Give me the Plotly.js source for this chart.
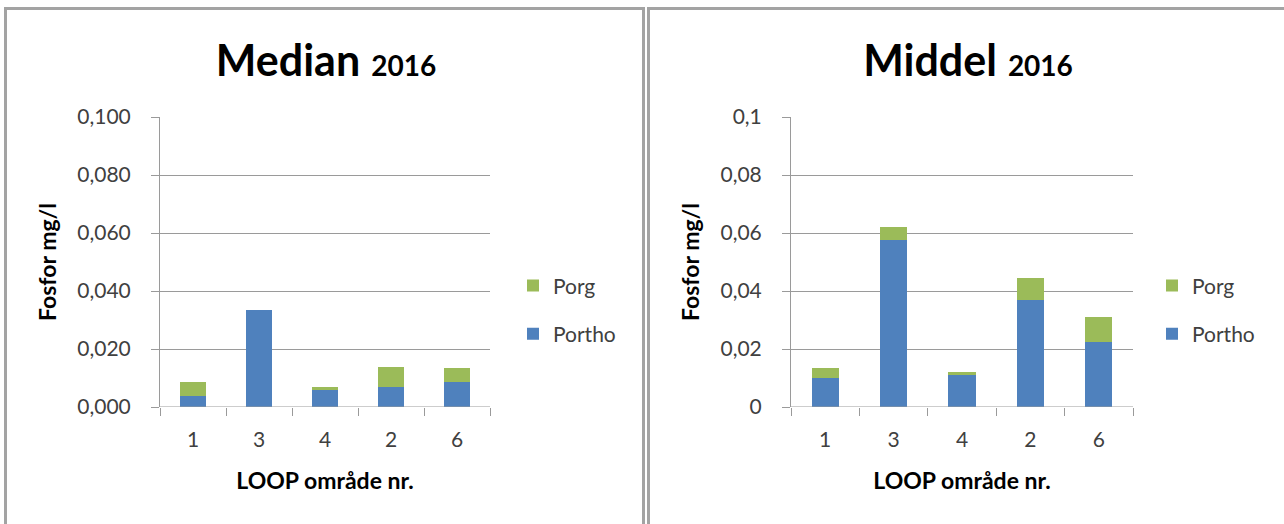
<!DOCTYPE html>
<html>
<head>
<meta charset="utf-8">
<script src="https://cdn.plot.ly/plotly-3.0.1.min.js"></script>
<style>
  html, body { margin:0; padding:0; background:#fff; width:1284px; height:524px; overflow:hidden; }
  #left, #right { position:absolute; top:0; height:524px; }
  #left { left:0; width:645px; }
  #right { left:645px; width:639px; }
  .frame { position:absolute; border:3px solid #a3a3a3; border-bottom:none; pointer-events:none; z-index:5; }
</style>
</head>
<body>
<div id="left"></div>
<div id="right"></div>
<div class="frame" style="left:4px; top:7px; width:635px; height:530px;"></div>
<div class="frame" style="left:647px; top:7px; width:660px; height:530px;"></div>
<script>
// Categories (LOOP område nr.)
const categories = ["1", "3", "4", "2", "6"];

// Median 2016 (mg/l)
const medianPortho = [0.0038, 0.0336, 0.0057, 0.0068, 0.0085];
const medianPorg   = [0.0047, 0.0000, 0.0012, 0.0069, 0.0049];

// Middel 2016 (mg/l)
const middelPortho = [0.0100, 0.0576, 0.0110, 0.0368, 0.0225];
const middelPorg   = [0.0035, 0.0043, 0.0012, 0.0078, 0.0086];

// Tick labels
const yTickVals = [0, 0.02, 0.04, 0.06, 0.08, 0.1];
const medianTickText = ["0,000", "0,020", "0,040", "0,060", "0,080", "0,100"];
const middelTickText = ["0", "0,02", "0,04", "0,06", "0,08", "0,1"];

const BLUE = "#4f81bd";
const GREEN = "#9bbb59";
const FONT = "Lato, 'Open Sans', sans-serif";
const GRID = "#9a9a9a";

function makeTraces(portho, porg) {
  return [
    { type: "bar", name: "Portho", x: categories, y: portho, marker: { color: BLUE }, legendgroup: "a", legendrank: 2, hoverinfo: "skip" },
    { type: "bar", name: "Porg", x: categories, y: porg, marker: { color: GREEN }, legendgroup: "b", legendrank: 1, hoverinfo: "skip" }
  ];
}

function makeLayout(word, tickText, width, ml, mr, bargap, legX, titleX) {
  return {
    width: width, height: 524,
    margin: { l: ml, r: mr, t: 117, b: 117, pad: 0 },
    paper_bgcolor: "rgba(0,0,0,0)",
    plot_bgcolor: "#fff",
    barmode: "stack",
    bargap: bargap,
    font: { family: FONT, size: 21, color: "#404040" },
    title: {
      text: "<b>" + word + "</b> <b><span style='font-size:28px'>2016</span></b>",
      font: { family: FONT, size: 43, color: "#000" },
      x: titleX, xref: "container", xanchor: "center",
      y: 1 - 61 / 524, yref: "container", yanchor: "middle"
    },
    xaxis: {
      type: "category",
      tickson: "boundaries",
      ticks: "outside", ticklen: 8, tickcolor: GRID, tickwidth: 1,
      ticklabelstandoff: 18,
      showline: false, showgrid: false, zeroline: false,
      tickfont: { family: FONT, size: 21, color: "#404040" },
      title: { text: "<b>LOOP område nr.</b>", font: { family: FONT, size: 23, color: "#000" }, standoff: 22 }
    },
    yaxis: {
      range: [0, 0.1],
      tickvals: yTickVals, ticktext: tickText,
      ticks: "outside", ticklen: 8, tickcolor: GRID, tickwidth: 1,
      ticklabelstandoff: 16,
      showline: true, linecolor: GRID, linewidth: 1,
      showgrid: true, gridcolor: GRID, gridwidth: 1,
      zeroline: false,
      tickfont: { family: FONT, size: 21, color: "#404040" },
      title: { text: "<b>Fosfor mg/l</b>", font: { family: FONT, size: 23, color: "#000" }, standoff: 14 }
    },
    showlegend: true,
    legend: {
      x: legX, xanchor: "left", y: 0.335, yanchor: "middle",
      tracegroupgap: 18,
      font: { family: FONT, size: 21, color: "#404040" },
      bgcolor: "rgba(0,0,0,0)"
    },
    shapes: [
      { type: "line", xref: "paper", yref: "y", x0: 0, x1: 1, y0: 0, y1: 0, line: { color: GRID, width: 1 } }
    ]
  };
}

const cfg = { staticPlot: true, displayModeBar: false };

Plotly.newPlot("left",
  makeTraces(medianPortho, medianPorg),
  makeLayout("Median", medianTickText, 645, 160, 155, 0.62, (513 - 160) / 330, 326 / 645),
  cfg);

Plotly.newPlot("right",
  makeTraces(middelPortho, middelPorg),
  makeLayout("Middel", middelTickText, 639, 146, 151, 0.605, (1152 - 791) / 342, 323 / 639),
  cfg);
</script>
</body>
</html>
